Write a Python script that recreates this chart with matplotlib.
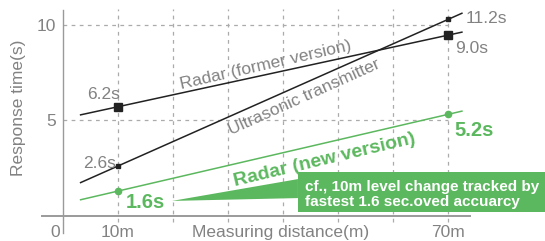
"""Response time vs measuring distance: radar (former/new) and ultrasonic."""
import matplotlib
matplotlib.use("Agg")
import matplotlib.pyplot as plt
from matplotlib import font_manager
from matplotlib.patches import Polygon, Rectangle

# data
distance = [10, 70]
radar_former = [5.7, 9.47]
ultrasonic = [2.58, 10.3]
radar_new = [1.26, 5.3]
line_span = [3.2, 72.5]          # how far each line runs past the points
former_labels = ["6.2s", "9.0s"]
ultra_labels = ["2.6s", "11.2s"]
new_labels = ["1.6s", "5.2s"]
grid_x = [10, 20, 30, 40, 50, 60, 70]
grid_y = [5, 10]
xtick_pos = [10, 70]
xtick_labels = ["10m", "70m"]
ytick_pos = [5, 10]
ytick_labels = ["5", "10"]
note_lines = ["cf., 10m level change tracked by", "fastest 1.6 sec.oved accuarcy"]

GRAY = "#828282"
GREEN = "#5cb85f"
FONT = ["Liberation Sans", "DejaVu Sans"]
plt.rcParams["font.family"] = FONT

names = {f.name for f in font_manager.fontManager.ttflist}
narrow = "Liberation Sans Narrow" in names


def extend(ys):
    slope = (ys[1] - ys[0]) / (distance[1] - distance[0])
    return [ys[0] + slope * (x - distance[0]) for x in line_span]


fig = plt.figure(figsize=(5.45, 2.41), dpi=100)
ax = fig.add_axes([0, 0, 1, 1])
ax.set_xlim(-11.45, 87.6)
ax.set_ylim(-1.37, 11.32)
ax.patch.set_alpha(0)

# axes: spines placed in data space
for s in ("top", "right"):
    ax.spines[s].set_visible(False)
ax.spines["left"].set_position(("data", 0))
ax.spines["left"].set_bounds(-0.95, 10.8)
ax.spines["left"].set_color("#9a9a9a")
ax.spines["left"].set_linewidth(1.0)
ax.spines["bottom"].set_position(("data", -0.03))
ax.spines["bottom"].set_bounds(-3.8, 74)
ax.spines["bottom"].set_color("#9a9a9a")
ax.spines["bottom"].set_linewidth(1.4)

ax.set_xticks(xtick_pos, xtick_labels)
ax.set_yticks(ytick_pos, ytick_labels)
ax.tick_params(axis="x", length=0, pad=7, labelsize=12.5, labelcolor=GRAY)
ax.tick_params(axis="y", length=0, pad=5, labelsize=12.5, labelcolor=GRAY)
ax.text(-1.4, -1.15, "0", color=GRAY, fontsize=12.5, ha="center", va="baseline")

# dashed grid
ax.vlines(grid_x, -0.35, 10.85, colors="#ababab", linestyles=(0, (3, 3.5)), linewidth=0.9, zorder=1)
ax.hlines(grid_y, 0, 70, colors="#ababab", linestyles=(0, (3, 3.5)), linewidth=0.9, zorder=1)

# series
ax.plot(line_span, extend(radar_former), color="#222222", lw=1.1, zorder=3)
ax.plot(distance, radar_former, "s", color="#222222", ms=5.5, zorder=4)
ax.plot(line_span, extend(ultrasonic), color="#222222", lw=1.1, zorder=3)
ax.plot(distance, ultrasonic, "s", color="#222222", ms=3.5, zorder=4)
ax.plot(line_span, extend(radar_new), color=GREEN, lw=1.1, zorder=3)
ax.plot(distance, radar_new, "o", color=GREEN, ms=4.5, zorder=4)

# value labels
ax.text(7.3, 6.13, former_labels[0], color=GRAY, fontsize=12.5, ha="center", va="baseline")
ax.text(74.2, 8.53, former_labels[1], color=GRAY, fontsize=12.5, ha="center", va="baseline")
ax.text(6.6, 2.47, ultra_labels[0], color=GRAY, fontsize=12.5, ha="center", va="baseline")
ax.text(77.0, 10.1, ultra_labels[1], color=GRAY, fontsize=12.5, ha="center", va="baseline")
ax.text(14.9, 0.37, new_labels[0], color=GREEN, fontsize=14.5, fontweight="bold", ha="center", va="baseline")
ax.text(74.7, 4.16, new_labels[1], color=GREEN, fontsize=14.5, fontweight="bold", ha="center", va="baseline")

# series names along the lines
ax.text(36.8, 7.89, "Radar (former version)", color=GRAY, fontsize=12.5, rotation=12.9,
        ha="center", va="center", rotation_mode="anchor")
ax.text(43.8, 6.18, "Ultrasonic transmitter", color=GRAY, fontsize=12.5, rotation=24.2,
        ha="center", va="center", rotation_mode="anchor")
ax.text(47.5, 2.89, "Radar (new version)", color=GREEN, fontsize=14, fontweight="bold",
        rotation=13.4, ha="center", va="center", rotation_mode="anchor")

# callout box
ax.add_patch(Polygon([(19.8, 0.74), (42.7, 1.89), (42.7, 0.89)], closed=True,
                     facecolor=GREEN, edgecolor="none", zorder=2))
ax.add_patch(Rectangle((42.7, 0.16), 50, 2.1, facecolor=GREEN, edgecolor="none", zorder=2))
note_font = ["Liberation Sans Narrow", "Liberation Sans"] if narrow else FONT
note_size = 13 if narrow else 11
ax.text(44.0, 1.47, note_lines[0], color="white", fontsize=note_size, fontweight="bold",
        family=note_font, ha="left", va="center", zorder=5)
ax.text(44.0, 0.68, note_lines[1], color="white", fontsize=note_size, fontweight="bold",
        family=note_font, ha="left", va="center", zorder=5)

# axis titles
ax.text(-8.0, 5.63, "Response time(s)", color=GRAY, fontsize=12.5, rotation=90,
        ha="center", va="center")
ax.text(39.6, -1.33, "Measuring distance(m)", color=GRAY, fontsize=12.5,
        ha="center", va="bottom")

fig.savefig("out.png", dpi=100)
